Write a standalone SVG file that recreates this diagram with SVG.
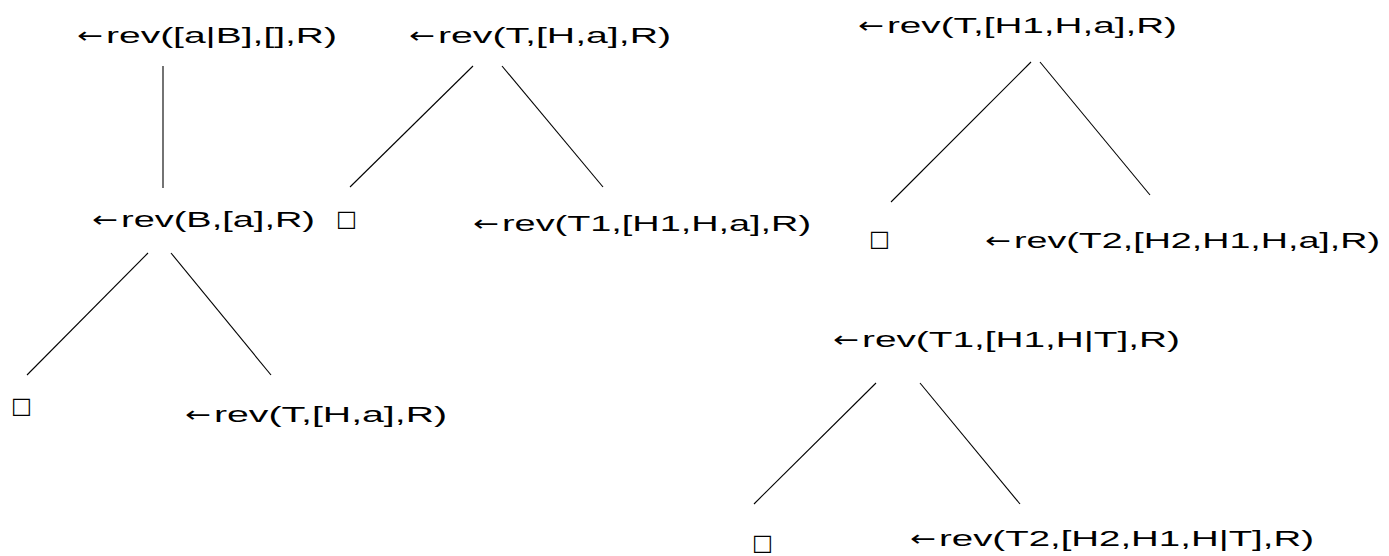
<svg xmlns="http://www.w3.org/2000/svg" width="1389" height="556" viewBox="0 0 1389 556">
  <style>
    .goal { font-family: "Liberation Sans", Arial, sans-serif; font-size: 22px; fill: #000; }
    .arr { font-family: "DejaVu Sans", sans-serif; font-size: 22px; fill: #000; }
    .box { font-family: "DejaVu Sans", sans-serif; font-size: 22px; fill: #000; }
    .edge { stroke: #000; stroke-width: 1.1; fill: none; }
  </style>
  <rect width="1389" height="556" fill="#fff"/>

  <!-- tree edges -->
  <g id="connectors">
    <line class="edge" x1="163" y1="66" x2="163" y2="188"/>
    <line class="edge" x1="473" y1="66" x2="350" y2="187"/>
    <line class="edge" x1="502" y1="66" x2="603" y2="187"/>
    <line class="edge" x1="1031" y1="62" x2="891" y2="202"/>
    <line class="edge" x1="1040" y1="62" x2="1150" y2="195"/>
    <line class="edge" x1="148" y1="253" x2="27" y2="375"/>
    <line class="edge" x1="171" y1="253" x2="271" y2="375"/>
    <line class="edge" x1="876" y1="383" x2="754" y2="504"/>
    <line class="edge" x1="920" y1="383" x2="1020" y2="504"/>
  </g>

  <!-- first derivation -->
  <g id="n1">
    <text class="arr" x="77" y="43" textLength="26" lengthAdjust="spacingAndGlyphs">←</text>
    <text class="goal" x="106" y="43" textLength="231" lengthAdjust="spacingAndGlyphs">rev([a|B],[],R)</text>
  </g>
  <g id="n2">
    <text class="arr" x="92" y="227" textLength="26" lengthAdjust="spacingAndGlyphs">←</text>
    <text class="goal" x="121" y="227" textLength="194" lengthAdjust="spacingAndGlyphs">rev(B,[a],R)</text>
  </g>
  <g id="n3"><text class="box" x="11" y="413">□</text></g>
  <g id="n4">
    <text class="arr" x="185" y="422" textLength="26" lengthAdjust="spacingAndGlyphs">←</text>
    <text class="goal" x="214" y="422" textLength="233" lengthAdjust="spacingAndGlyphs">rev(T,[H,a],R)</text>
  </g>

  <!-- second derivation -->
  <g id="n5">
    <text class="arr" x="409" y="43" textLength="26" lengthAdjust="spacingAndGlyphs">←</text>
    <text class="goal" x="438" y="43" textLength="233" lengthAdjust="spacingAndGlyphs">rev(T,[H,a],R)</text>
  </g>
  <g id="n6"><text class="box" x="336" y="226">□</text></g>
  <g id="n7">
    <text class="arr" x="473" y="231" textLength="26" lengthAdjust="spacingAndGlyphs">←</text>
    <text class="goal" x="502" y="231" textLength="309" lengthAdjust="spacingAndGlyphs">rev(T1,[H1,H,a],R)</text>
  </g>

  <!-- third derivation -->
  <g id="n8">
    <text class="arr" x="858" y="33" textLength="26" lengthAdjust="spacingAndGlyphs">←</text>
    <text class="goal" x="887" y="33" textLength="290" lengthAdjust="spacingAndGlyphs">rev(T,[H1,H,a],R)</text>
  </g>
  <g id="n9"><text class="box" x="869" y="246">□</text></g>
  <g id="n10">
    <text class="arr" x="985" y="248" textLength="26" lengthAdjust="spacingAndGlyphs">←</text>
    <text class="goal" x="1014" y="248" textLength="366" lengthAdjust="spacingAndGlyphs">rev(T2,[H2,H1,H,a],R)</text>
  </g>

  <!-- fourth derivation -->
  <g id="n11">
    <text class="arr" x="833" y="347" textLength="26" lengthAdjust="spacingAndGlyphs">←</text>
    <text class="goal" x="862" y="347" textLength="318" lengthAdjust="spacingAndGlyphs">rev(T1,[H1,H|T],R)</text>
  </g>
  <g id="n12"><text class="box" x="752" y="550">□</text></g>
  <g id="n13">
    <text class="arr" x="910" y="546" textLength="26" lengthAdjust="spacingAndGlyphs">←</text>
    <text class="goal" x="939" y="546" textLength="375" lengthAdjust="spacingAndGlyphs">rev(T2,[H2,H1,H|T],R)</text>
  </g>
</svg>
